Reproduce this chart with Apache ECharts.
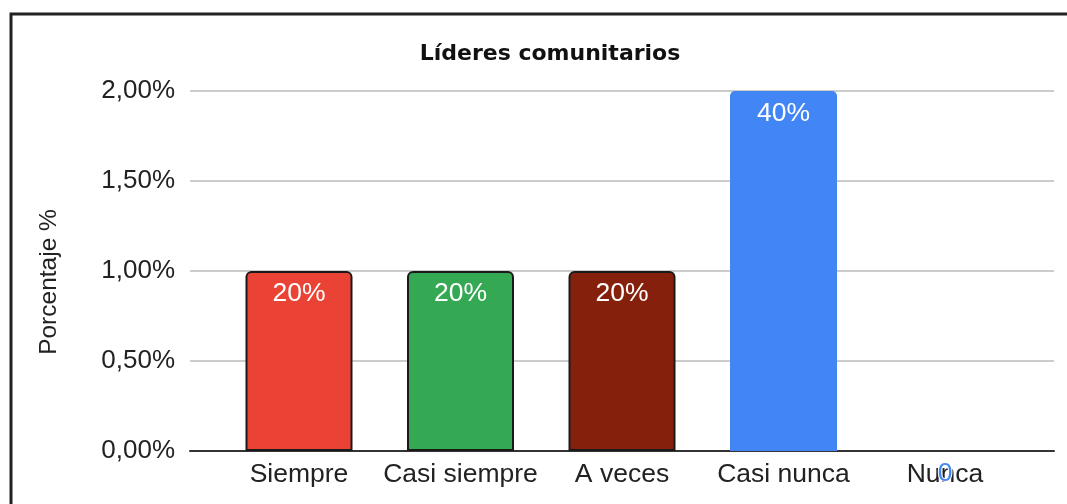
<!DOCTYPE html>
<html>
<head>
<meta charset="utf-8">
<script src="https://cdn.jsdelivr.net/npm/echarts@6/dist/echarts.min.js"></script>
<style>
  html, body { margin: 0; padding: 0; background: #fff; overflow: hidden; }
  #chart { width: 1067px; height: 504px; }
</style>
</head>
<body>
<div id="chart"></div>
<script>
// datos del gráfico
const categories = ['Siempre', 'Casi siempre', 'A veces', 'Casi nunca', 'Nunca'];
const values = [1, 1, 1, 2, 0];            // porcentaje (eje)
const barLabels = ['20%', '20%', '20%', '40%', '0'];
const barColors = ['#ea4335', '#34a853', '#85200c', '#4285f4', '#4285f4'];
const barBorders = [true, true, true, false, false];
const yMin = 0, yMax = 2, yStep = 0.5;

const chart = echarts.init(document.getElementById('chart'));

const fmtPct = v => v.toFixed(2).replace('.', ',') + '%';

const barData = values.map((v, i) => {
  const item = {
    value: v,
    itemStyle: {
      color: barColors[i],
      borderColor: barBorders[i] ? '#1a1a1a' : barColors[i],
      borderWidth: barBorders[i] ? 2 : 0,
      borderRadius: [5, 5, 0, 0]
    },
    label: { formatter: barLabels[i] }
  };
  if (v === 0) {
    // etiqueta del cero queda debajo del eje
    item.label = {
      formatter: barLabels[i],
      position: 'bottom',
      distance: 9,
      color: '#4285f4',
      textBorderColor: '#fff',
      textBorderWidth: 2
    };
  }
  return item;
});

const option = {
  animation: false,
  title: {
    text: 'Líderes comunitarios',
    left: 545,
    textAlign: 'center',
    top: 38,
    textStyle: { fontFamily: 'DejaVu Sans', fontWeight: 'bold', fontSize: 22, color: '#111' }
  },
  graphic: [{
    type: 'rect',
    shape: { x: 11, y: 14, width: 1200, height: 1000 },
    style: { fill: 'none', stroke: '#222', lineWidth: 3 },
    silent: true
  }],
  grid: [
    { left: 190, right: 13, top: 91, bottom: 53 },      // rejilla y eje Y
    { left: 218.25, right: 41.25, top: 91, bottom: 53 } // barras
  ],
  xAxis: [
    {
      gridIndex: 0, type: 'category', data: [''],
      axisLine: { lineStyle: { color: '#333', width: 2 } },
      axisTick: { show: false }, axisLabel: { show: false }
    },
    {
      gridIndex: 1, type: 'category', data: categories,
      axisLine: { show: false }, axisTick: { show: false },
      axisLabel: {
        interval: 0, hideOverlap: false, margin: 10,
        fontSize: 26.5, color: '#222', fontFamily: 'Liberation Sans, Arial'
      }
    }
  ],
  yAxis: [
    {
      gridIndex: 0, type: 'value', min: yMin, max: yMax, interval: yStep,
      name: 'Porcentaje %', nameLocation: 'middle', nameGap: 128,
      nameTextStyle: { fontSize: 24.5, color: '#222', fontFamily: 'Liberation Sans, Arial', padding: [0, 22, 0, 0] },
      axisLine: { show: false }, axisTick: { show: false },
      axisLabel: { formatter: fmtPct, margin: 15, fontSize: 26, color: '#222', fontFamily: 'Liberation Sans, Arial' },
      splitLine: { lineStyle: { color: '#cccccc', width: 2 } }
    },
    {
      gridIndex: 1, type: 'value', min: yMin, max: yMax, interval: yStep,
      show: false, splitLine: { show: false }
    }
  ],
  series: [{
    type: 'bar',
    xAxisIndex: 1, yAxisIndex: 1,
    barWidth: 107,
    data: barData,
    label: {
      show: true,
      position: 'insideTop',
      distance: 9,
      color: '#fff',
      fontSize: 26.5,
      fontFamily: 'Liberation Sans, Arial'
    }
  }]
};

chart.setOption(option);
</script>
</body>
</html>
